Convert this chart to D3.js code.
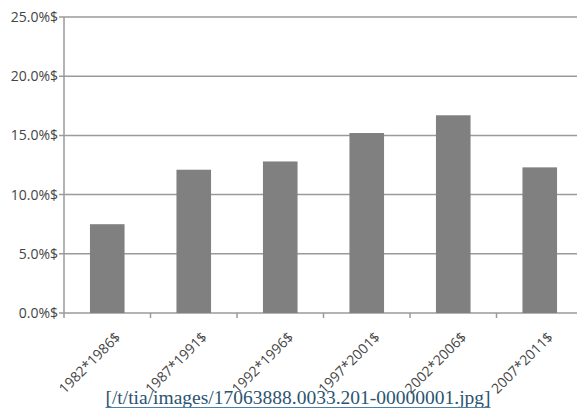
<!DOCTYPE html>
<html>
<head>
<meta charset="utf-8">
<script src="https://cdn.jsdelivr.net/npm/d3@7"></script>
<style>
  body { margin: 0; background: #fff; }
  svg text { font-family: "Open Sans", sans-serif; }
  svg text.caption { font-family: "Liberation Serif", serif; }
</style>
</head>
<body>
<div id="canvas"></div>
<script>
const width = 577;
const height = 410;

// data
const periods = ["1982*1986$", "1987*1991$", "1992*1996$", "1997*2001$", "2002*2006$", "2007*2011$"];
const shares = [7.5, 12.1, 12.8, 15.2, 16.7, 12.3];
const yTicks = [0, 5, 10, 15, 20, 25];
const caption = "[/t/tia/images/17063888.0033.201-00000001.jpg]";

const plotLeft = 64, plotRight = 583, plotTop = 17, plotBottom = 313;

const svg = d3.select("#canvas")
    .append("svg")
    .attr("width", width)
    .attr("height", height);

var x = d3.scaleBand(periods, [plotLeft, plotRight]).paddingInner(0.6).paddingOuter(0.3);
var y = d3.scaleLinear([0, 25], [plotBottom, plotTop]);

// gridlines
svg.selectAll(".grid")
    .data(yTicks)
    .join("line")
    .attr("class", "grid")
    .attr("x1", plotLeft - 5)
    .attr("x2", width)
    .attr("y1", d => y(d))
    .attr("y2", d => y(d))
    .attr("stroke", "#9a9a9a")
    .attr("stroke-width", 1.5);

// y axis line
svg.append("line")
    .attr("x1", plotLeft).attr("x2", plotLeft)
    .attr("y1", plotTop).attr("y2", plotBottom)
    .attr("stroke", "#9a9a9a").attr("stroke-width", 1.5);

// y labels
svg.selectAll(".ylab")
    .data(yTicks)
    .join("text")
    .attr("class", "ylab")
    .attr("x", plotLeft - 6)
    .attr("y", d => y(d))
    .attr("dy", "0.35em")
    .attr("text-anchor", "end")
    .attr("font-size", 14)
    .attr("fill", "#444")
    .text(d => d.toFixed(1) + "%$");

// x ticks at band edges
var edges = d3.range(periods.length + 1).map(i => plotLeft + i * (plotRight - plotLeft) / periods.length);
svg.selectAll(".xtick")
    .data(edges)
    .join("line")
    .attr("class", "xtick")
    .attr("x1", d => d).attr("x2", d => d)
    .attr("y1", plotBottom).attr("y2", plotBottom + 5)
    .attr("stroke", "#9a9a9a").attr("stroke-width", 1.5);

// bars
svg.selectAll(".bar")
    .data(shares)
    .join("rect")
    .attr("class", "bar")
    .attr("x", (d, i) => x(periods[i]))
    .attr("width", x.bandwidth())
    .attr("y", d => y(d))
    .attr("height", d => y(0) - y(d))
    .attr("fill", "#808080");

// x labels rotated
svg.selectAll(".xlab")
    .data(periods)
    .join("text")
    .attr("class", "xlab")
    .attr("transform", d => `translate(${x(d) + x.bandwidth() / 2 + 14},${plotBottom + 25}) rotate(-45)`)
    .attr("text-anchor", "end")
    .attr("font-size", 14)
    .attr("fill", "#444")
    .text(d => d);

// caption link
var capText = svg.append("text")
    .attr("class", "caption")
    .attr("x", 298)
    .attr("y", 404)
    .attr("text-anchor", "middle")
    .attr("font-size", 19.5)
    .attr("fill", "#2b5470")
    .text(caption);

var cap = capText.node().getBBox();
svg.append("line")
    .attr("x1", cap.x).attr("x2", cap.x + cap.width)
    .attr("y1", 407.5).attr("y2", 407.5)
    .attr("stroke", "#4a80ab").attr("stroke-width", 1.2);
</script>
</body>
</html>
